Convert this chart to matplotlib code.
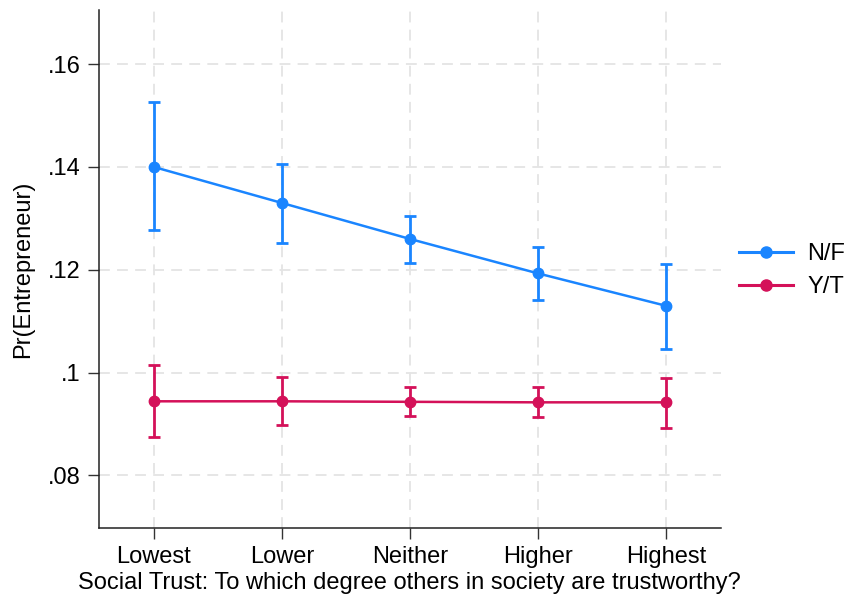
import matplotlib.pyplot as plt
from matplotlib.lines import Line2D

# Predicted probability of being an entrepreneur, by social trust level
categories = ['Lowest', 'Lower', 'Neither', 'Higher', 'Highest']

nf_mean = [0.1400, 0.1330, 0.1260, 0.1193, 0.1130]
nf_low = [0.1277, 0.1253, 0.1213, 0.1141, 0.1046]
nf_high = [0.1526, 0.1406, 0.1305, 0.1245, 0.1211]

yt_mean = [0.0944, 0.0944, 0.0943, 0.0942, 0.0942]
yt_low = [0.0874, 0.0897, 0.0915, 0.0914, 0.0893]
yt_high = [0.1015, 0.0991, 0.0971, 0.0971, 0.0990]

y_ticks = [0.08, 0.10, 0.12, 0.14, 0.16]
y_tick_labels = ['.08', '.1', '.12', '.14', '.16']

plt.rcParams['font.family'] = ['Liberation Sans', 'DejaVu Sans']

fig = plt.figure(figsize=(8.45, 6.03), dpi=100)
ax = fig.add_axes([0.117, 0.124, 0.736, 0.859])

x = list(range(1, len(categories) + 1))

series = [
    ('N/F', nf_mean, nf_low, nf_high, '#1a85ff'),
    ('Y/T', yt_mean, yt_low, yt_high, '#d41159'),
]
handles = []
for label, mean, low, high, color in series:
    err = [[m - l for m, l in zip(mean, low)], [h - m for m, h in zip(mean, high)]]
    ax.errorbar(x, mean, yerr=err, color=color, marker='o', markersize=7.5,
                linewidth=1.8, elinewidth=2, capsize=4, capthick=2)
    handles.append(Line2D([], [], color=color, marker='o', markersize=8,
                          linewidth=2.2, label=label))

ax.set_xlim(0.57, 5.43)
ax.set_ylim(0.0697, 0.1705)
ax.set_xticks(x)
ax.set_xticklabels(categories)
ax.set_yticks(y_ticks)
ax.set_yticklabels(y_tick_labels)
ax.tick_params(labelsize=17, length=8, width=1, color='#333333', pad=5)

ax.grid(True, linestyle=(0, (6, 4)), color='#e4e4e4', linewidth=1.3)
ax.set_axisbelow(True)
for side in ['top', 'right']:
    ax.spines[side].set_visible(False)
for side in ['left', 'bottom']:
    ax.spines[side].set_linewidth(1.1)
    ax.spines[side].set_color('#222222')

ax.set_xlabel('Social Trust: To which degree others in society are trustworthy?',
              fontsize=17, labelpad=3)
ax.set_ylabel('Pr(Entrepreneur)', fontsize=17, labelpad=10)

fig.legend(handles=handles, loc='center left', bbox_to_anchor=(0.874, 0.551),
           bbox_transform=fig.transFigure, frameon=False, fontsize=17,
           handlelength=2.3, handletextpad=0.6, labelspacing=0.45,
           borderpad=0, borderaxespad=0)

fig.savefig('out.png', dpi=100)
